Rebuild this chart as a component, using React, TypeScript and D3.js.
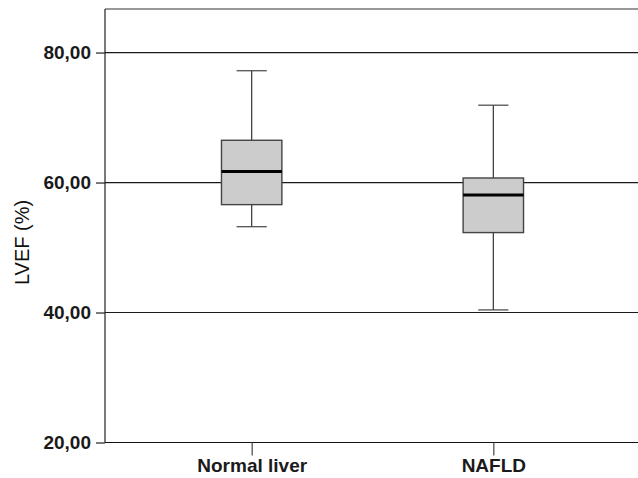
import React, { useEffect, useRef } from 'react';
import * as d3 from 'd3';

// box plot summary values
const categories = ['Normal liver', 'NAFLD'];
const whiskerLow = [53.2, 40.4];
const q1 = [56.6, 52.3];
const median = [61.7, 58.1];
const q3 = [66.5, 60.7];
const whiskerHigh = [77.2, 71.9];
const yTicks = [20, 40, 60, 80];
const gridValues = [40, 60, 80];

const W = 638;
const H = 478;

const App = () => {
    const svgRef = useRef<SVGSVGElement>(null);

    useEffect(() => {
        const svg = d3.select(svgRef.current);
        svg.selectAll('*').remove();

        const left = 105, top = 9, right = 640, bottom = 442.5;
        const font = '"Liberation Sans", Arial, sans-serif';

        const y = d3.scaleLinear().domain([20, 86.7]).range([bottom, top]);
        const x = d3.scalePoint<string>().domain(categories).range([left, right]).padding(0.607);
        const boxW = x.step() * 0.25;
        const capW = boxW / 2;

        // gridlines
        svg.append('g')
            .selectAll('line')
            .data(gridValues)
            .enter()
            .append('line')
            .attr('x1', left)
            .attr('x2', right)
            .attr('y1', d => y(d))
            .attr('y2', d => y(d))
            .attr('stroke', '#1a1a1a')
            .attr('stroke-width', 1.2);

        // frame (top + left + bottom)
        svg.append('line').attr('x1', left).attr('x2', right).attr('y1', top).attr('y2', top)
            .attr('stroke', '#333').attr('stroke-width', 1.2);

        // y axis
        const yAxis = svg.append('g')
            .attr('transform', `translate(${left},0)`)
            .call(d3.axisLeft(y).tickValues(yTicks).tickSize(9).tickPadding(5)
                .tickFormat(d => d3.format('.2f')(d as number).replace('.', ',')));
        yAxis.select('.domain').attr('stroke', '#222').attr('stroke-width', 1.2).attr('d', `M0,${top}V${bottom}`);
        yAxis.selectAll('.tick line').attr('stroke', '#222').attr('stroke-width', 1.2);
        yAxis.selectAll('.tick text')
            .attr('font-family', font)
            .attr('font-size', 19)
            .attr('font-weight', 'bold')
            .attr('fill', '#1a1a1a');

        // x axis
        const xAxis = svg.append('g')
            .attr('transform', `translate(0,${bottom})`)
            .call(d3.axisBottom(x).tickSize(13).tickPadding(3));
        xAxis.select('.domain').attr('stroke', '#111').attr('stroke-width', 1.2).attr('d', `M${left},0H${right}`);
        xAxis.selectAll('.tick line').attr('stroke', '#444').attr('stroke-width', 1.2);
        xAxis.selectAll('.tick text')
            .attr('font-family', font)
            .attr('font-size', 19)
            .attr('font-weight', 'bold')
            .attr('fill', '#1a1a1a');

        // y title
        svg.append('text')
            .attr('transform', `translate(29,${242.5}) rotate(-90)`)
            .attr('text-anchor', 'middle')
            .attr('font-family', font)
            .attr('font-size', 20)
            .attr('fill', '#111')
            .text('LVEF (%)');

        const idx = d3.range(categories.length);
        const boxes = svg.append('g').selectAll('g').data(idx).enter().append('g');

        // whiskers
        boxes.append('line')
            .attr('x1', i => x(categories[i])!)
            .attr('x2', i => x(categories[i])!)
            .attr('y1', i => y(whiskerLow[i]))
            .attr('y2', i => y(whiskerHigh[i]))
            .attr('stroke', '#333')
            .attr('stroke-width', 1.2);
        boxes.append('line')
            .attr('x1', i => x(categories[i])! - capW / 2)
            .attr('x2', i => x(categories[i])! + capW / 2)
            .attr('y1', i => y(whiskerHigh[i]))
            .attr('y2', i => y(whiskerHigh[i]))
            .attr('stroke', '#444')
            .attr('stroke-width', 1.2);
        boxes.append('line')
            .attr('x1', i => x(categories[i])! - capW / 2)
            .attr('x2', i => x(categories[i])! + capW / 2)
            .attr('y1', i => y(whiskerLow[i]))
            .attr('y2', i => y(whiskerLow[i]))
            .attr('stroke', '#444')
            .attr('stroke-width', 1.2);

        // boxes
        boxes.append('rect')
            .attr('x', i => x(categories[i])! - boxW / 2)
            .attr('y', i => y(q3[i]))
            .attr('width', boxW)
            .attr('height', i => y(q1[i]) - y(q3[i]))
            .attr('fill', '#cccccc')
            .attr('stroke', '#444')
            .attr('stroke-width', 1.4);

        // medians
        boxes.append('line')
            .attr('x1', i => x(categories[i])! - boxW / 2)
            .attr('x2', i => x(categories[i])! + boxW / 2)
            .attr('y1', i => y(median[i]))
            .attr('y2', i => y(median[i]))
            .attr('stroke', '#000')
            .attr('stroke-width', 3);
    }, []);

    return (
        <svg
            ref={svgRef}
            width={W}
            height={H}
            style={{ position: 'absolute', left: 0, top: 0, background: '#fff' }}
        />
    );
};

export default App;
